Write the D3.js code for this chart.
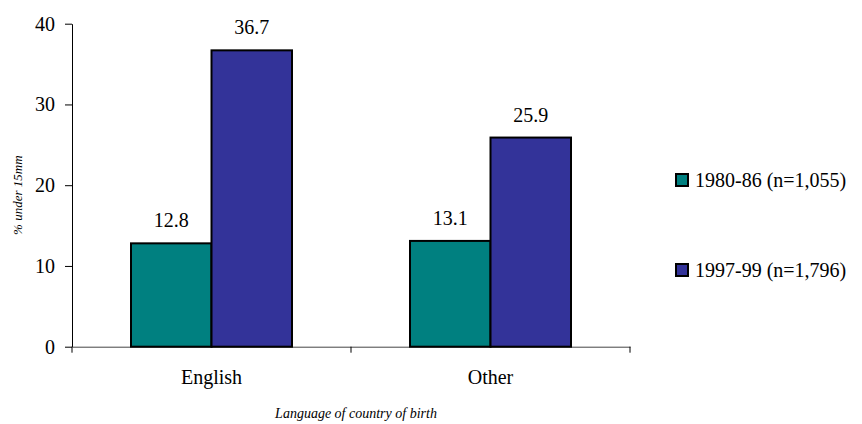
<!DOCTYPE html>
<meta charset="utf-8">
<style>
body { margin: 0; background: #fff; }
svg text { font-family: "Times New Roman", Times, "Liberation Serif", "DejaVu Serif", serif !important; fill: #000; }
.axis path, .axis line { stroke: #000; }
.bar { stroke: #000; stroke-width: 2px; }
</style>
<body>
<svg width="862" height="424"></svg>
<script src="https://d3js.org/d3.v7.min.js"></script>
<script>

var categories = ["English", "Other"];
var series = ["1980-86 (n=1,055)", "1997-99 (n=1,796)"];
var values1980 = [12.8, 13.1];
var values1997 = [36.7, 25.9];
var yTicks = [0, 10, 20, 30, 40];
var colors = ["#008080", "#333399"];

var svg = d3.select("svg"),
    margin = {top: 23.7, right: 232, bottom: 77.3, left: 72},
    width = +svg.attr("width") - margin.left - margin.right,
    height = +svg.attr("height") - margin.top - margin.bottom,
    g = svg.append("g").attr("transform", "translate(" + margin.left + "," + margin.top + ")");

var data = categories.map(function(c, i) {
  return {cat: c, vals: [values1980[i], values1997[i]]};
});

var x0 = d3.scaleBand().domain(categories).range([0, width]);
var x1 = d3.scaleBand().domain(d3.range(series.length))
    .range([0, x0.bandwidth()]).paddingOuter(0.733);
var y = d3.scaleLinear().domain([0, 40]).range([height, 0]);

// y axis
var yGroup = g.append("g")
    .attr("class", "axis")
    .attr("font-family", null)
    .call(d3.axisLeft(y).tickValues(yTicks).tickSizeInner(7).tickSizeOuter(0).tickPadding(10));
yGroup.attr("font-family", null);
yGroup.selectAll("text").style("font-size", "20px");

// x axis
var xGroup = g.append("g")
    .attr("class", "axis")
    .attr("transform", "translate(0," + height + ")")
    .call(d3.axisBottom(x0).tickSize(0).tickPadding(23));
xGroup.attr("font-family", null);
xGroup.select("path").style("stroke", "#444");
xGroup.selectAll("text").style("font-size", "20px");
// category boundary ticks
xGroup.selectAll(".sep")
  .data([0, x0.step(), x0.step() * 2])
  .enter().append("line")
    .attr("x1", function(d) { return d; })
    .attr("x2", function(d) { return d; })
    .attr("y1", 0).attr("y2", 6)
    .attr("stroke", "#000");

// bars
var groups = g.selectAll(".grp")
  .data(data)
  .enter().append("g")
    .attr("transform", function(d) { return "translate(" + x0(d.cat) + ",0)"; });

groups.selectAll("rect")
  .data(function(d) { return d.vals.map(function(v, i) { return {i: i, v: v}; }); })
  .enter().append("rect")
    .attr("class", "bar")
    .attr("x", function(d) { return x1(d.i); })
    .attr("y", function(d) { return y(d.v); })
    .attr("width", x1.bandwidth())
    .attr("height", function(d) { return height - y(d.v); })
    .attr("fill", function(d) { return colors[d.i]; });

groups.selectAll(".lbl")
  .data(function(d) { return d.vals.map(function(v, i) { return {i: i, v: v}; }); })
  .enter().append("text")
    .attr("x", function(d) { return x1(d.i) + x1.bandwidth() / 2; })
    .attr("y", function(d) { return y(d.v) - 16; })
    .attr("text-anchor", "middle")
    .style("font-size", "20px")
    .text(function(d) { return d3.format(".1f")(d.v); });

// axis titles
svg.append("text")
    .attr("transform", "translate(22," + (margin.top + height / 2 + 10) + ") rotate(-90)")
    .attr("text-anchor", "middle")
    .style("font-size", "13px")
    .style("font-style", "italic")
    .text("% under 15mm");

svg.append("text")
    .attr("x", margin.left + width / 2 + 5)
    .attr("y", 418)
    .attr("text-anchor", "middle")
    .style("font-size", "14px")
    .style("font-style", "italic")
    .text("Language of country of birth");

// legend
var legendY = [180, 270];
var legend = svg.selectAll(".legend")
  .data(series)
  .enter().append("g")
    .attr("transform", function(d, i) { return "translate(676," + legendY[i] + ")"; });

legend.append("rect")
    .attr("x", 0).attr("y", -6)
    .attr("width", 12).attr("height", 12)
    .attr("fill", function(d, i) { return colors[i]; })
    .attr("stroke", "#000")
    .attr("stroke-width", 2);

legend.append("text")
    .attr("x", 19)
    .attr("y", 7)
    .style("font-size", "20px")
    .text(function(d) { return d; });

</script>
</body>
